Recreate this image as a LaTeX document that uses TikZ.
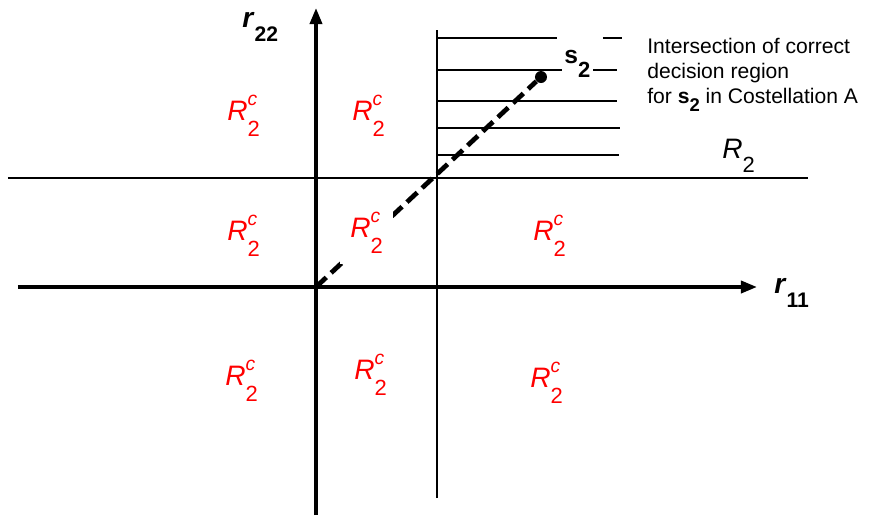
\documentclass[tikz,border=0pt]{standalone}
\usepackage{fontspec}
\setmainfont{Liberation Sans}
\usepackage{xcolor}
\usetikzlibrary{arrows.meta, positioning}
\definecolor{cRegion}{RGB}{255,0,0}
% labels with lowered subscripts
\newcommand{\Rcomp}{\textit{R}\rlap{\raisebox{8pt}{\fontsize{11}{13}\selectfont\textit{c}}}\raisebox{-9.5pt}{\fontsize{12.5}{14}\selectfont 2}}
\newcommand{\Rtwo}{\textit{R}\raisebox{-8.5pt}{\fontsize{12.5}{14}\selectfont 2}}
\newcommand{\svec}{\textbf{s\raisebox{-4.5pt}{\fontsize{10.5}{12}\selectfont 2}}}
\newcommand{\raxis}[1]{\textbf{\textit{r}\raisebox{-8.5pt}{\fontsize{12}{14}\selectfont #1}}}
\tikzset{
    axis/.style     ={line width=2pt, -{Triangle[length=3.2mm, width=2.4mm]}},
    border/.style   ={line width=0.9pt},
    hatch/.style    ={line width=0.6pt},
    decline/.style  ={line width=2.7pt, dash pattern=on 8pt off 3.8pt},
    dot/.style      ={circle, fill=black, inner sep=0pt, minimum size=0.24cm},
    region/.style   ={anchor=base west, text=cRegion, font=\fontsize{16}{19}\selectfont, fill=white, inner sep=0pt},
    axlabel/.style  ={anchor=base west, inner sep=0pt, font=\fontsize{16}{19}\selectfont},
}

\begin{document}
\begin{tikzpicture}
    \useasboundingbox (-6.32,-4.64) rectangle (11.10,5.74);

    % axes and region borders
    \coordinate (O)  at (0,0);
    \coordinate (xL) at (-5.96,0);
    \coordinate (xR) at (8.82,0);
    \coordinate (yB) at (0,-4.56);
    \coordinate (yT) at (0,5.58);
    \coordinate (bT) at (2.42,5.14);
    \coordinate (bB) at (2.42,-4.22);
    \coordinate (bL) at (-6.16,2.18);
    \coordinate (bR) at (9.84,2.18);

    \draw[axis] (xL) -- (xR);
    \draw[axis] (yB) -- (yT);
    \draw[border] (bB) -- (bT);
    \draw[border] (bL) -- (bR);

    % hatching of the intersection
    \draw[hatch] (2.42,4.98) -- (4.82,4.98) (5.74,4.98) -- (6.12,4.98);
    \foreach \y/\xe in {4.34/6.02, 3.72/6.02, 3.18/6.08, 2.64/6.06}
        \draw[hatch] (2.42,\y) -- (\xe,\y);

    % signal point
    \node[dot] (s2) at (4.50,4.20) {};
    \draw[decline] (O) -- (s2);
    \node[anchor=base west, fill=white, inner sep=1.5pt, xshift=-1.5pt, font=\fontsize{14}{16}\selectfont]
        (s2lab) at (4.96,4.48) {\textbf{s\raisebox{-8pt}{\fontsize{12.5}{14}\selectfont 2}}};

    % labels
    \node[axlabel] (r22) at (-1.48,5.20) {\raxis{22}};
    \node[axlabel] (r11) at (9.16,-0.12) {\raxis{11}};
    \node[anchor=base west, inner sep=0pt, font=\fontsize{16}{19}\selectfont] (R2) at (8.12,2.58) {\Rtwo};
    \node[anchor=north west, inner sep=0pt, align=left, font=\fontsize{12}{14.2}\selectfont] (note) at (6.62,4.98)
        {Intersection of correct\\decision region\\for \svec{} in Costellation A};

    \node[region] (ra) at (-1.78,3.34)  {\Rcomp};
    \node[region] (rb) at (0.72,3.34)   {\Rcomp};
    \node[region] (rc) at (-1.78,0.94)  {\Rcomp};
    \node[region, inner sep=6pt, xshift=-6pt] (rd) at (0.68,1.00) {\Rcomp};
    \node[region] (re) at (4.34,0.94)   {\Rcomp};
    \node[region] (rf) at (-1.82,-1.96) {\Rcomp};
    \node[region] (rg) at (0.76,-1.84)  {\Rcomp};
    \node[region] (rh) at (4.28,-2.00)  {\Rcomp};
\end{tikzpicture}
\end{document}
